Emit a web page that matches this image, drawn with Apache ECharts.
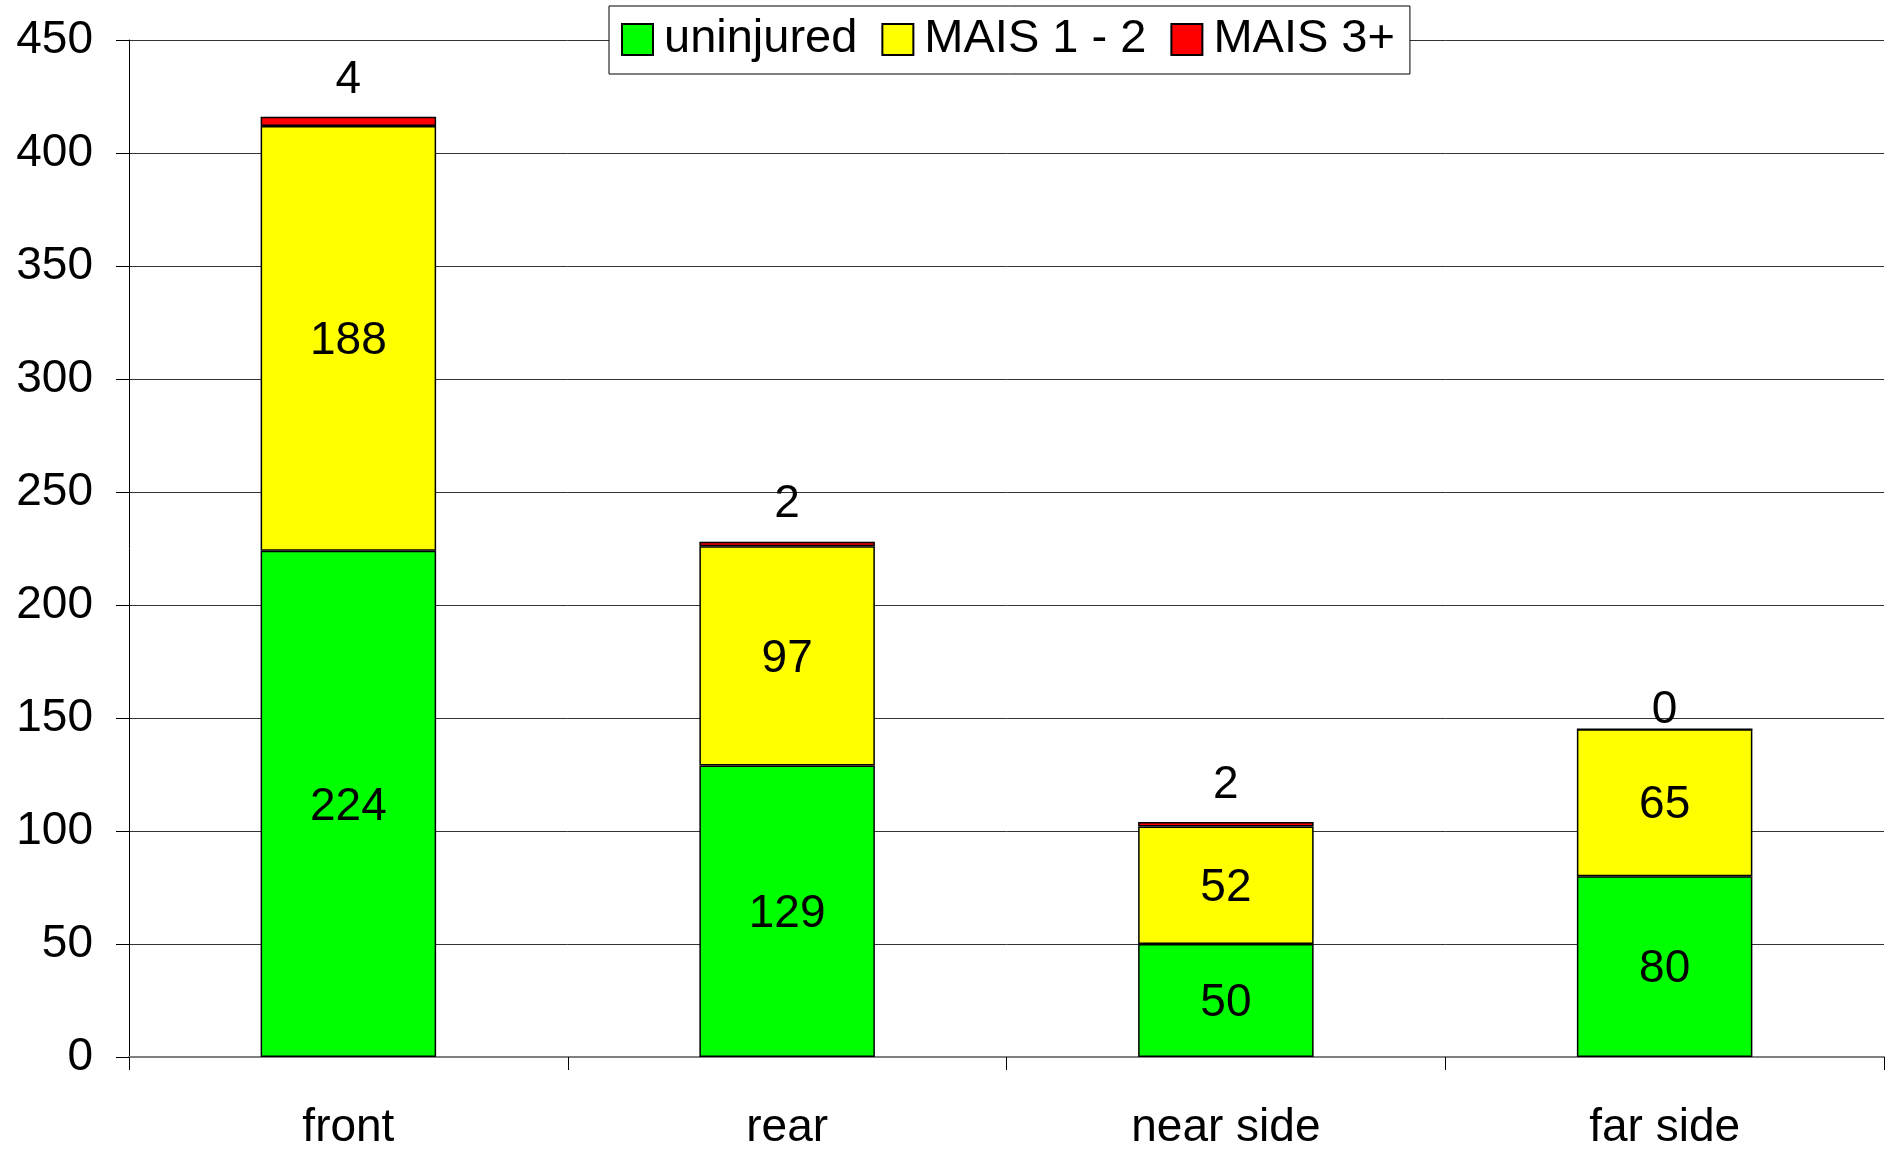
<!DOCTYPE html>
<html>
<head>
<meta charset="utf-8">
<script src="https://cdn.jsdelivr.net/npm/echarts@6/dist/echarts.min.js"></script>
<style>
html,body{margin:0;padding:0;background:#fff;}
#chart{width:1890px;height:1151px;}
</style>
</head>
<body>
<div id="chart"></div>
<script>
const categories = ['front', 'rear', 'near side', 'far side'];
const uninjured = [224, 129, 50, 80];
const mais12 = [188, 97, 52, 65];
const mais3 = [4, 2, 2, 0];
const seriesNames = ['uninjured', 'MAIS 1 - 2', 'MAIS 3+'];
const seriesColors = ['#00ff00', '#ffff00', '#ff0000'];
const yTicks = [0, 50, 100, 150, 200, 250, 300, 350, 400, 450];

const FONT = "'Liberation Sans', Arial, sans-serif";

const chart = echarts.init(document.getElementById('chart'));
const labelStyle = { show: true, position: 'inside', offset: [0, 3], fontSize: 46, color: '#000', fontFamily: FONT };
const barStyle = (c) => ({ color: c, borderColor: '#000', borderWidth: 1.5 });

chart.setOption({
  animation: false,
  backgroundColor: '#fff',
  textStyle: { fontFamily: FONT },
  legend: {
    left: 609, top: 6,
    padding: [10, 15, 11, 12],
    icon: 'rect',
    itemWidth: 31, itemHeight: 31, itemGap: 24,
    backgroundColor: '#fff', borderColor: '#000', borderWidth: 1,
    itemStyle: { borderColor: '#000', borderWidth: 2 },
    textStyle: { fontSize: 47, lineHeight: 47, fontFamily: FONT, color: '#000', padding: [0, 0, 0, 6] },
    data: seriesNames
  },
  grid: { left: 129, right: 6, top: 40, bottom: 87, containLabel: false },
  xAxis: {
    type: 'category', data: categories,
    axisLine: { lineStyle: { color: '#808080', width: 2 } },
    axisTick: { show: true, length: 13, lineStyle: { color: '#000', width: 1 } },
    axisLabel: { fontSize: 46, color: '#000', margin: 48, fontFamily: FONT }
  },
  yAxis: {
    type: 'value', min: yTicks[0], max: yTicks[yTicks.length - 1], interval: 50,
    axisLine: { show: true, lineStyle: { color: '#000', width: 1 } },
    axisTick: { show: true, length: 13, lineStyle: { color: '#000' } },
    axisLabel: { fontSize: 46, color: '#000', margin: 36, fontFamily: FONT },
    splitLine: { show: true, lineStyle: { color: '#333', width: 1 } }
  },
  series: [
    { name: seriesNames[0], type: 'bar', stack: 'total', barWidth: '40%', data: uninjured,
      itemStyle: barStyle(seriesColors[0]), label: labelStyle },
    { name: seriesNames[1], type: 'bar', stack: 'total', barWidth: '40%', data: mais12,
      itemStyle: barStyle(seriesColors[1]), label: labelStyle },
    { name: seriesNames[2], type: 'bar', stack: 'total', barWidth: '40%',
      data: mais3.map(v => ({ value: v, label: { distance: v === 0 ? -5 : 14 } })),
      itemStyle: barStyle(seriesColors[2]),
      label: Object.assign({}, labelStyle, { position: 'top', offset: [0, 0], distance: 14 }) }
  ]
});
</script>
</body>
</html>
